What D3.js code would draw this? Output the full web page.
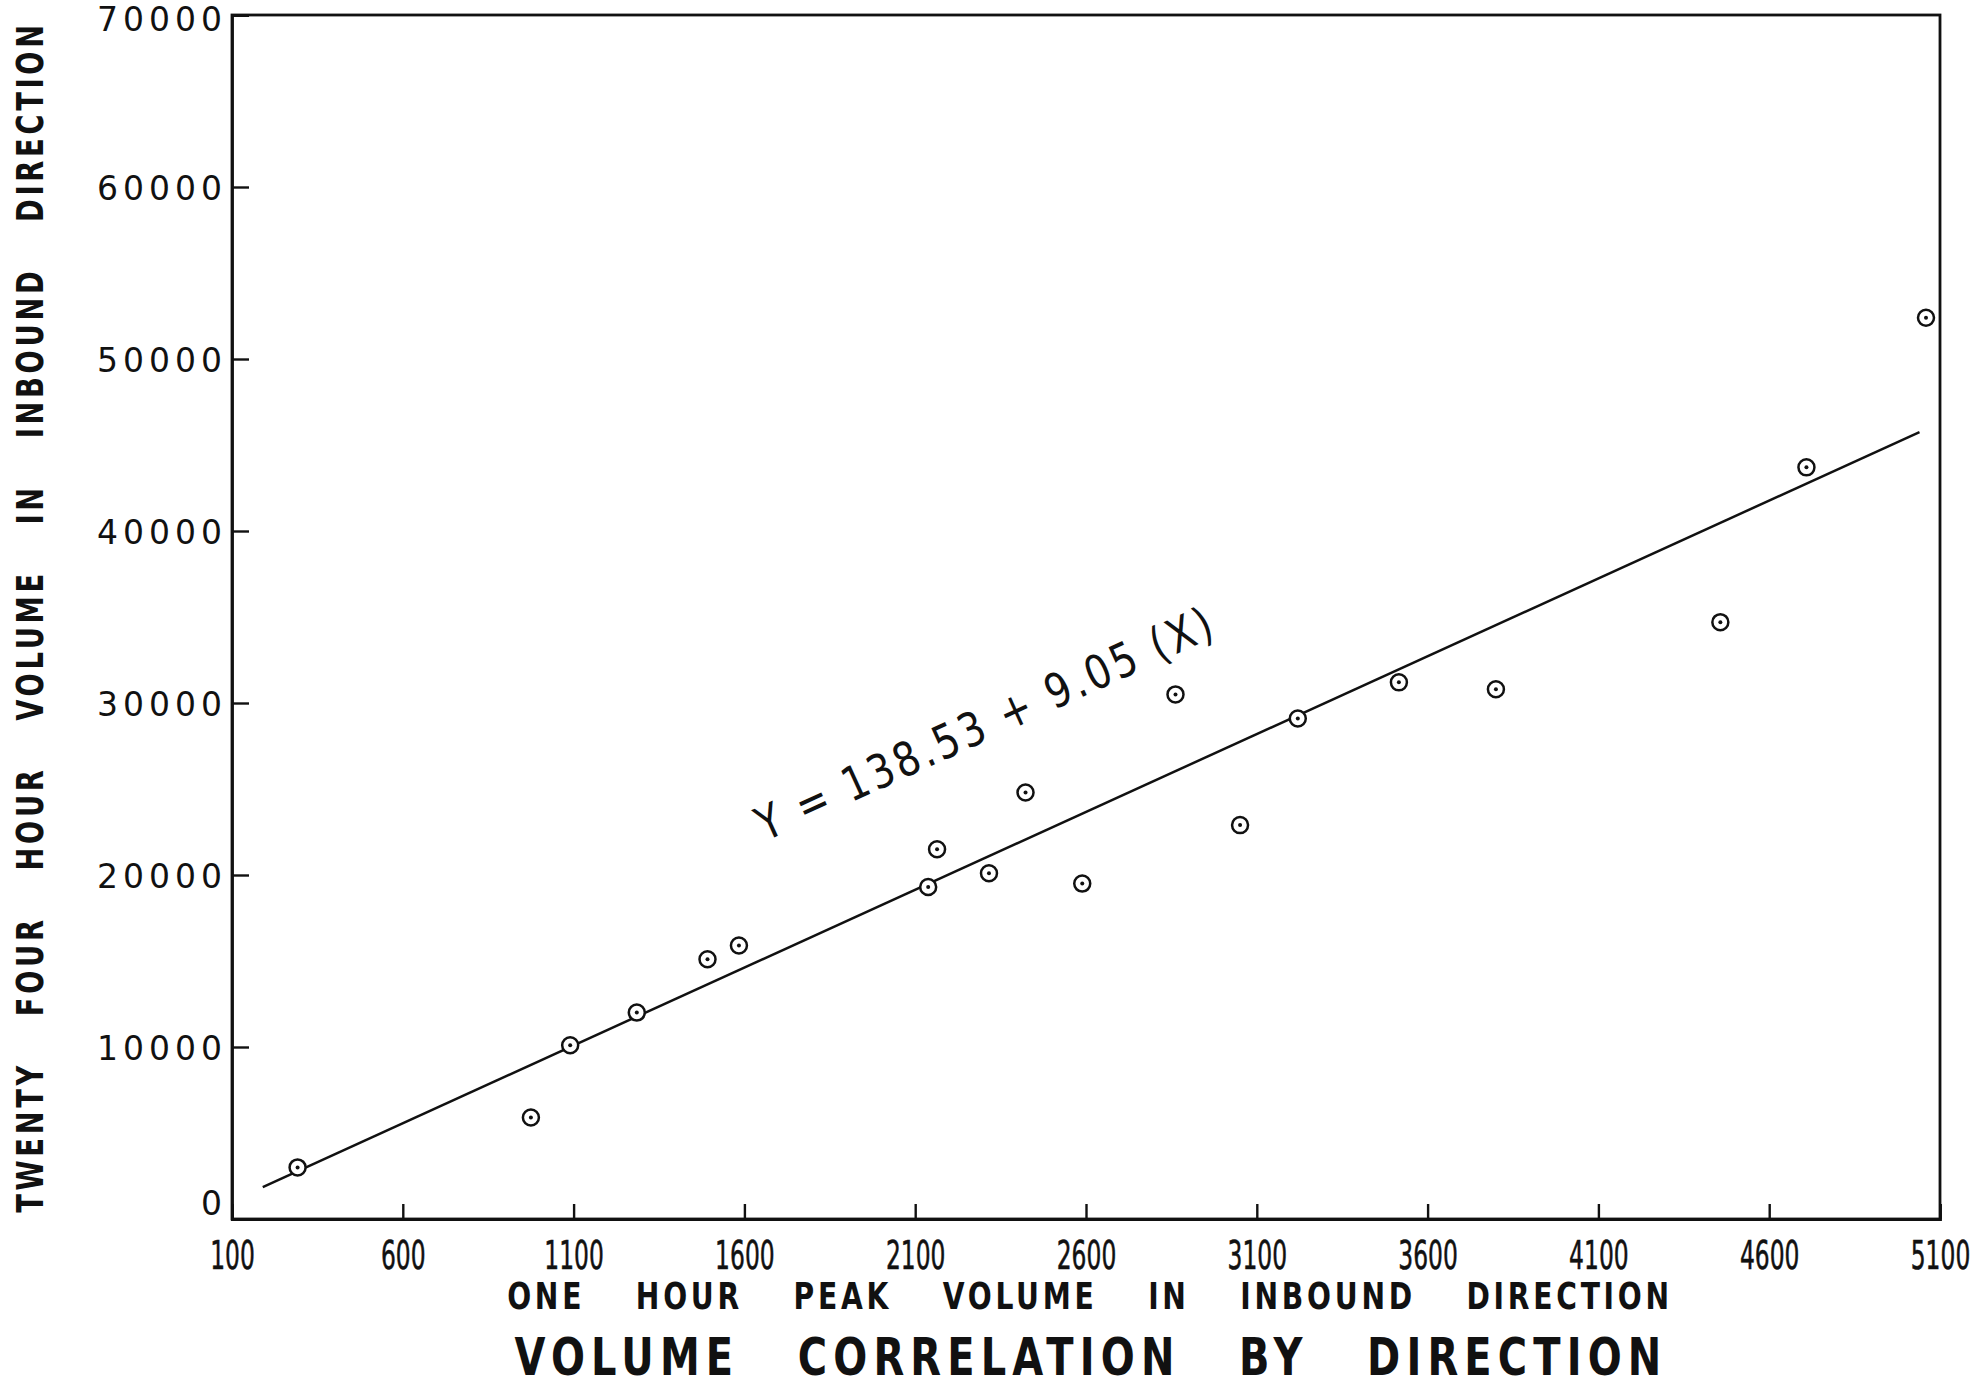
<!DOCTYPE html>
<html>
<head>
<meta charset="utf-8">
<script src="https://cdn.jsdelivr.net/npm/d3@7"></script>
<style>
  html, body { margin: 0; padding: 0; background: #fff; overflow: hidden; }
  svg { display: block; }
  .tick text { fill: #111; }
</style>
</head>
<body>
<figure id="chart" style="margin:0"></figure>
<script>
// values
var peakVolume = [292, 975, 1090, 1285, 1492, 1584, 2138, 2164, 2316, 2423, 2589, 2862, 3051, 3220, 3516, 3800, 4457, 4709, 5059];
var dailyVolume = [3000, 5900, 10100, 12000, 15100, 15900, 19300, 21500, 20100, 24800, 19500, 30500, 22900, 29100, 31200, 30800, 34700, 43700, 52400];

var xTicks = [100, 600, 1100, 1600, 2100, 2600, 3100, 3600, 4100, 4600, 5100];
var yTicks = [0, 10000, 20000, 30000, 40000, 50000, 60000, 70000];

// fitted line Y = a + b X, drawn over this X range
var intercept = 138.53, slope = 9.05;
var fitRange = [190, 5040];

var width = 1978, height = 1387;
var margin = { top: 15, right: 38, bottom: 168, left: 232 };
var titleFont = "'DejaVu Sans', sans-serif";

var svg = d3.select("#chart")
    .append("svg")
    .attr("width", width)
    .attr("height", height);

var x = d3.scaleLinear()
    .domain([100, 5100])
    .range([margin.left, width - margin.right]);

var y = d3.scaleLinear()
    .domain([0, 70000])
    .range([height - margin.bottom, margin.top]);

// squeeze a text horizontally so it is exactly `target` px long (old stencil lettering is narrow)
function squeeze(text, target, place) {
    var w = text.node().getBBox().width;
    text.attr("transform", place + " scale(" + (target / w) + ",1)");
}

// frame
svg.append("rect")
    .attr("x", x(100))
    .attr("y", y(70000))
    .attr("width", x(5100) - x(100))
    .attr("height", y(0) - y(70000))
    .attr("fill", "none")
    .attr("stroke", "#111")
    .attr("stroke-width", 2.8);

// y axis, ticks pointing inward
var yAxis = svg.append("g")
    .attr("transform", "translate(" + x(100) + ",0)")
    .call(d3.axisLeft(y).tickValues(yTicks).tickSize(-17).tickPadding(5).tickFormat(d3.format("d")));
yAxis.select(".domain").attr("stroke", "#111").attr("stroke-width", 2.8);
yAxis.selectAll(".tick line").attr("stroke", "#111").attr("stroke-width", 2.4);
yAxis.selectAll(".tick text")
    .style("font-family", "'DejaVu Sans', sans-serif")
    .style("font-size", "33px")
    .style("letter-spacing", "5px")
    .attr("dy", function (d) { return d === 0 ? "-0.15em" : (d === 70000 ? "0.48em" : "0.38em"); });

// x axis
var xAxis = svg.append("g")
    .attr("transform", "translate(0," + y(0) + ")")
    .call(d3.axisBottom(x).tickValues(xTicks).tickSize(-15).tickPadding(22).tickFormat(d3.format("d")));
xAxis.select(".domain").attr("stroke", "#111").attr("stroke-width", 2.8);
xAxis.selectAll(".tick line").attr("stroke", "#111").attr("stroke-width", 2.4);
xAxis.selectAll(".tick text")
    .style("font-family", "'DejaVu Sans', sans-serif")
    .style("font-size", "39px")
    .attr("stroke", "#111")
    .attr("stroke-width", 0.6)
    .attr("transform", "scale(0.6,1)");

// regression line
var fit = fitRange.map(function (v) { return [v, intercept + slope * v]; });
svg.append("path")
    .datum(fit)
    .attr("d", d3.line().x(function (d) { return x(d[0]); }).y(function (d) { return y(d[1]); }))
    .attr("fill", "none")
    .attr("stroke", "#111")
    .attr("stroke-width", 2.5);

// equation label, parallel to the line
var angle = Math.atan2(y(fit[1][1]) - y(fit[0][1]), x(fit[1][0]) - x(fit[0][0])) * 180 / Math.PI;
var labelX = 1790;
var eq = svg.append("text")
    .attr("y", -106)
    .style("font-family", "'DejaVu Sans', sans-serif")
    .style("font-size", "47px")
    .style("letter-spacing", "4px")
    .attr("fill", "#111")
    .text("Y = 138.53 + 9.05 (X)");
squeeze(eq, 500, "translate(" + x(labelX) + "," + y(intercept + slope * labelX) + ") rotate(" + angle + ")");

// observations: ring with a dot
var pts = peakVolume.map(function (v, i) { return [v, dailyVolume[i]]; });
var marks = svg.selectAll(".obs")
    .data(pts)
    .enter()
    .append("g")
    .attr("class", "obs")
    .attr("transform", function (d) { return "translate(" + x(d[0]) + "," + y(d[1]) + ")"; });
marks.append("circle").attr("r", 8).attr("fill", "#fff").attr("stroke", "#111").attr("stroke-width", 2.5);
marks.append("circle").attr("r", 2).attr("fill", "#111");

// axis titles
var yTitle = svg.append("text")
    .attr("text-anchor", "middle")
    .style("font-family", titleFont)
    .style("font-weight", "bold")
    .style("font-size", "37px")
    .style("letter-spacing", "5px")
    .style("word-spacing", "44px")
    .attr("fill", "#111")
    .text("TWENTY FOUR HOUR VOLUME IN INBOUND DIRECTION");
squeeze(yTitle, 1192, "translate(43," + (y(0) + y(70000)) / 2 + ") rotate(-90)");

var xTitle = svg.append("text")
    .attr("text-anchor", "middle")
    .style("font-family", titleFont)
    .style("font-weight", "bold")
    .style("font-size", "38px")
    .style("letter-spacing", "5px")
    .style("word-spacing", "50px")
    .attr("fill", "#111")
    .text("ONE HOUR PEAK VOLUME IN INBOUND DIRECTION");
squeeze(xTitle, 1166, "translate(1090,1309)");

var title = svg.append("text")
    .attr("text-anchor", "middle")
    .style("font-family", titleFont)
    .style("font-weight", "bold")
    .style("font-size", "52px")
    .style("letter-spacing", "8px")
    .style("word-spacing", "50px")
    .attr("fill", "#111")
    .text("VOLUME CORRELATION BY DIRECTION");
squeeze(title, 1153, "translate(1091,1375)");
</script>
</body>
</html>
